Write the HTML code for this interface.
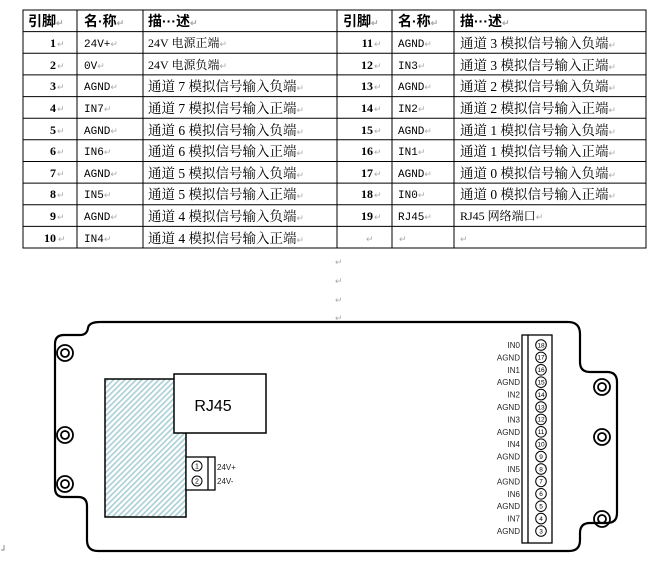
<!DOCTYPE html>
<html><head><meta charset="utf-8"><style>
html,body{margin:0;padding:0;background:#fff;}
svg{display:block;}
.t{font-family:"Liberation Serif","Noto Serif CJK SC","Noto Sans CJK SC",serif;fill:#000;}
.m{font-family:"Liberation Mono","Noto Sans CJK SC",monospace;fill:#000;}
.c{font-family:"Liberation Sans","Noto Sans CJK SC",sans-serif;fill:#000;}
.r{fill:#aaa;font-size:9px;font-family:"Liberation Sans",sans-serif;}
.a{font-family:"Liberation Sans",sans-serif;font-size:8px;fill:#222;}
</style></head><body>
<svg width="669" height="563" viewBox="0 0 669 563" xmlns="http://www.w3.org/2000/svg">
<defs>
<pattern id="h" width="4" height="4" patternUnits="userSpaceOnUse" patternTransform="rotate(45)">
<rect width="4" height="4" fill="#fff"/><rect width="1.6" height="4" fill="#a8cfd6"/>
</pattern>
</defs>
<g stroke="#000" stroke-width="1" fill="none">
<rect x="23" y="10" width="623" height="238"/>
<line x1="337" y1="10" x2="337" y2="248"/>
<line x1="77" y1="10" x2="77" y2="248"/>
<line x1="143" y1="10" x2="143" y2="248"/>
<line x1="392" y1="10" x2="392" y2="248"/>
<line x1="454" y1="10" x2="454" y2="248"/>
<line x1="23" y1="31.6" x2="646" y2="31.6"/>
<line x1="23" y1="53.3" x2="646" y2="53.3"/>
<line x1="23" y1="74.9" x2="646" y2="74.9"/>
<line x1="23" y1="96.6" x2="646" y2="96.6"/>
<line x1="23" y1="118.2" x2="646" y2="118.2"/>
<line x1="23" y1="139.8" x2="646" y2="139.8"/>
<line x1="23" y1="161.5" x2="646" y2="161.5"/>
<line x1="23" y1="183.1" x2="646" y2="183.1"/>
<line x1="23" y1="204.8" x2="646" y2="204.8"/>
<line x1="23" y1="226.4" x2="646" y2="226.4"/>
</g>
<g class="c" font-weight="bold" font-size="14">
<text x="28" y="26">引脚<tspan class="r">↵</tspan></text>
<text x="84" y="26">名·称<tspan class="r">↵</tspan></text>
<text x="148" y="26">描···述<tspan class="r">↵</tspan></text>
<text x="343" y="26">引脚<tspan class="r">↵</tspan></text>
<text x="398" y="26">名·称<tspan class="r">↵</tspan></text>
<text x="460" y="26">描···述<tspan class="r">↵</tspan></text>
</g>
<g class="t" font-size="12" font-weight="bold" text-anchor="end">
<text x="56" y="47">1</text><text x="56" y="69">2</text><text x="56" y="90">3</text><text x="56" y="112">4</text><text x="56" y="134">5</text><text x="56" y="155">6</text><text x="56" y="177">7</text><text x="56" y="198">8</text><text x="56" y="220">9</text><text x="56" y="242">10</text>
<text x="373" y="47">11</text><text x="373" y="69">12</text><text x="373" y="90">13</text><text x="373" y="112">14</text><text x="373" y="134">15</text><text x="373" y="155">16</text><text x="373" y="177">17</text><text x="373" y="198">18</text><text x="373" y="220">19</text>
</g>
<g class="r">
<text x="57" y="47">↵</text><text x="57" y="69">↵</text><text x="57" y="90">↵</text><text x="57" y="112">↵</text><text x="57" y="134">↵</text><text x="57" y="155">↵</text><text x="57" y="177">↵</text><text x="57" y="198">↵</text><text x="57" y="220">↵</text><text x="58" y="242">↵</text>
<text x="374" y="47">↵</text><text x="374" y="69">↵</text><text x="374" y="90">↵</text><text x="374" y="112">↵</text><text x="374" y="134">↵</text><text x="374" y="155">↵</text><text x="374" y="177">↵</text><text x="374" y="198">↵</text><text x="374" y="220">↵</text>
<text x="366" y="242">↵</text><text x="399" y="242">↵</text><text x="460" y="242">↵</text>
</g>
<g class="m" font-size="11">
<text x="84" y="47">24V+<tspan class="r">↵</tspan></text>
<text x="84" y="69">0V<tspan class="r">↵</tspan></text>
<text x="84" y="90">AGND<tspan class="r">↵</tspan></text>
<text x="84" y="112">IN7<tspan class="r">↵</tspan></text>
<text x="84" y="134">AGND<tspan class="r">↵</tspan></text>
<text x="84" y="155">IN6<tspan class="r">↵</tspan></text>
<text x="84" y="177">AGND<tspan class="r">↵</tspan></text>
<text x="84" y="198">IN5<tspan class="r">↵</tspan></text>
<text x="84" y="220">AGND<tspan class="r">↵</tspan></text>
<text x="84" y="242">IN4<tspan class="r">↵</tspan></text>
<text x="398" y="47">AGND<tspan class="r">↵</tspan></text>
<text x="398" y="69">IN3<tspan class="r">↵</tspan></text>
<text x="398" y="90">AGND<tspan class="r">↵</tspan></text>
<text x="398" y="112">IN2<tspan class="r">↵</tspan></text>
<text x="398" y="134">AGND<tspan class="r">↵</tspan></text>
<text x="398" y="155">IN1<tspan class="r">↵</tspan></text>
<text x="398" y="177">AGND<tspan class="r">↵</tspan></text>
<text x="398" y="198">IN0<tspan class="r">↵</tspan></text>
<text x="398" y="220">RJ45<tspan class="r">↵</tspan></text>
</g>
<g class="t" font-size="12">
<text x="148" y="47">24V 电源正端<tspan class="r">↵</tspan></text>
<text x="148" y="69">24V 电源负端<tspan class="r">↵</tspan></text>
<text x="460" y="220">RJ45 网络端口<tspan class="r">↵</tspan></text>
</g>
<g class="t" font-size="13.5">
<text x="148" y="91">通道 7 模拟信号输入负端<tspan class="r">↵</tspan></text>
<text x="148" y="113">通道 7 模拟信号输入正端<tspan class="r">↵</tspan></text>
<text x="148" y="135">通道 6 模拟信号输入负端<tspan class="r">↵</tspan></text>
<text x="148" y="156">通道 6 模拟信号输入正端<tspan class="r">↵</tspan></text>
<text x="148" y="178">通道 5 模拟信号输入负端<tspan class="r">↵</tspan></text>
<text x="148" y="199">通道 5 模拟信号输入正端<tspan class="r">↵</tspan></text>
<text x="148" y="221">通道 4 模拟信号输入负端<tspan class="r">↵</tspan></text>
<text x="148" y="243">通道 4 模拟信号输入正端<tspan class="r">↵</tspan></text>
<text x="460" y="48">通道 3 模拟信号输入负端<tspan class="r">↵</tspan></text>
<text x="460" y="70">通道 3 模拟信号输入正端<tspan class="r">↵</tspan></text>
<text x="460" y="91">通道 2 模拟信号输入负端<tspan class="r">↵</tspan></text>
<text x="460" y="113">通道 2 模拟信号输入正端<tspan class="r">↵</tspan></text>
<text x="460" y="135">通道 1 模拟信号输入负端<tspan class="r">↵</tspan></text>
<text x="460" y="156">通道 1 模拟信号输入正端<tspan class="r">↵</tspan></text>
<text x="460" y="178">通道 0 模拟信号输入负端<tspan class="r">↵</tspan></text>
<text x="460" y="199">通道 0 模拟信号输入正端<tspan class="r">↵</tspan></text>
</g>
<g class="r"><text x="335" y="265">↵</text><text x="335" y="284">↵</text><text x="335" y="303">↵</text><text x="335" y="321">↵</text></g>
<path d="M1,550 L4,550 L4,545" stroke="#888" fill="none" stroke-width="1"/>
<path d="M100,322 L568,322 Q580,322 580,334 L580,362 Q580,372 590,372 L607,372 Q617,372 617,382 L617,513 Q617,523 607,523 L590,523 Q580,523 580,533 L580,540 Q580,551 569,551 L98,551 Q87,551 87,540 L87,506 Q87,497 78,497 L64,497 Q55,497 55,488 L55,344 Q55,335 64,335 L80,335 Q87,335 88,328 Q89,322 100,322 Z" fill="none" stroke="#000" stroke-width="2.2"/>
<g fill="none" stroke="#000" stroke-width="1.8">
<circle cx="65" cy="353" r="8"/><circle cx="65" cy="353" r="4"/>
<circle cx="65" cy="435" r="8"/><circle cx="65" cy="435" r="4"/>
<circle cx="65" cy="484" r="8"/><circle cx="65" cy="484" r="4"/>
<circle cx="602" cy="387" r="8"/><circle cx="602" cy="387" r="4"/>
<circle cx="602" cy="437" r="8"/><circle cx="602" cy="437" r="4"/>
<circle cx="602" cy="519" r="8"/><circle cx="602" cy="519" r="4"/>
</g>
<rect x="105" y="379" width="81" height="138" fill="url(#h)" stroke="#000" stroke-width="1.5"/>
<rect x="174" y="374" width="92" height="59" fill="#fff" stroke="#000" stroke-width="1.5"/>
<text x="213" y="411" class="c" font-size="16" text-anchor="middle">RJ45</text>
<rect x="186" y="457" width="29" height="33" fill="#fff" stroke="#000" stroke-width="1.3"/>
<line x1="208" y1="457" x2="208" y2="490" stroke="#000" stroke-width="1.3"/>
<g fill="none" stroke="#000" stroke-width="1"><circle cx="197" cy="466" r="5"/><circle cx="197" cy="481" r="5"/></g>
<g class="c" font-size="7" text-anchor="middle"><text x="197" y="468.5">1</text><text x="197" y="483.5">2</text></g>
<text x="217" y="470" class="a">24V+</text><text x="217" y="484" class="a">24V-</text>
<rect x="522" y="335" width="30" height="208" fill="#fff" stroke="#000" stroke-width="1.3"/>
<line x1="528" y1="335" x2="528" y2="543" stroke="#000" stroke-width="1.3"/>
<g fill="none" stroke="#000" stroke-width="1">
<circle cx="541" cy="345" r="5.3"/><circle cx="541" cy="357.4" r="5.3"/><circle cx="541" cy="369.8" r="5.3"/><circle cx="541" cy="382.2" r="5.3"/><circle cx="541" cy="394.6" r="5.3"/><circle cx="541" cy="407" r="5.3"/><circle cx="541" cy="419.4" r="5.3"/><circle cx="541" cy="431.8" r="5.3"/><circle cx="541" cy="444.2" r="5.3"/><circle cx="541" cy="456.6" r="5.3"/><circle cx="541" cy="469" r="5.3"/><circle cx="541" cy="481.4" r="5.3"/><circle cx="541" cy="493.8" r="5.3"/><circle cx="541" cy="506.2" r="5.3"/><circle cx="541" cy="518.6" r="5.3"/><circle cx="541" cy="531" r="5.3"/>
</g>
<g class="c" font-size="6.5" text-anchor="middle">
<text x="541" y="347.3">18</text><text x="541" y="359.7">17</text><text x="541" y="372.1">16</text><text x="541" y="384.5">15</text><text x="541" y="396.9">14</text><text x="541" y="409.3">13</text><text x="541" y="421.7">12</text><text x="541" y="434.1">11</text><text x="541" y="446.5">10</text><text x="541" y="458.9">9</text><text x="541" y="471.3">8</text><text x="541" y="483.7">7</text><text x="541" y="496.1">6</text><text x="541" y="508.5">5</text><text x="541" y="520.9">4</text><text x="541" y="533.3">3</text>
</g>
<g class="a" text-anchor="end">
<text x="520" y="348">IN0</text><text x="520" y="360.4">AGND</text><text x="520" y="372.8">IN1</text><text x="520" y="385.2">AGND</text><text x="520" y="397.6">IN2</text><text x="520" y="410">AGND</text><text x="520" y="422.4">IN3</text><text x="520" y="434.8">AGND</text><text x="520" y="447.2">IN4</text><text x="520" y="459.6">AGND</text><text x="520" y="472">IN5</text><text x="520" y="484.4">AGND</text><text x="520" y="496.8">IN6</text><text x="520" y="509.2">AGND</text><text x="520" y="521.6">IN7</text><text x="520" y="534">AGND</text>
</g>
</svg>
</body></html>
